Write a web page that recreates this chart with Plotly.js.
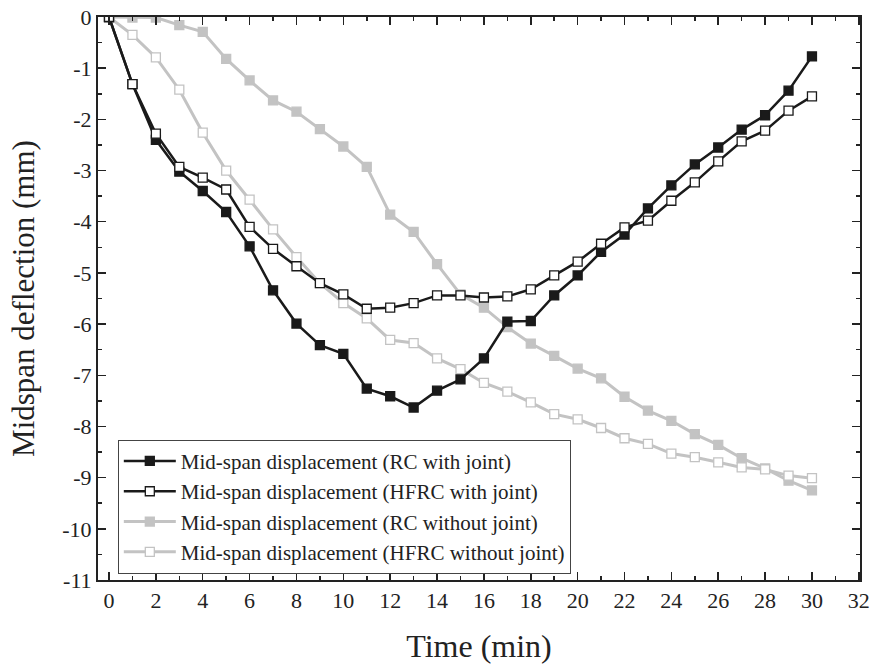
<!DOCTYPE html>
<html>
<head>
<meta charset="utf-8">
<script src="https://cdn.plot.ly/plotly-3.0.1.min.js"></script>
<style>html,body{margin:0;padding:0;background:#fff;}</style>
</head>
<body>
<div id="chart" style="width:873px;height:668px;"></div>
<script>
const time = [0,1,2,3,4,5,6,7,8,9,10,11,12,13,14,15,16,17,18,19,20,21,22,23,24,25,26,27,28,29,30];
const rcWithJoint = [0,-1.31,-2.40,-3.02,-3.40,-3.81,-4.48,-5.34,-5.99,-6.41,-6.58,-7.26,-7.41,-7.63,-7.30,-7.08,-6.67,-5.95,-5.94,-5.44,-5.05,-4.59,-4.25,-3.74,-3.29,-2.88,-2.55,-2.20,-1.92,-1.44,-0.77];
const hfrcWithJoint = [0,-1.31,-2.28,-2.93,-3.14,-3.37,-4.10,-4.53,-4.87,-5.20,-5.42,-5.70,-5.68,-5.59,-5.44,-5.44,-5.48,-5.46,-5.32,-5.05,-4.78,-4.43,-4.11,-3.98,-3.59,-3.23,-2.82,-2.43,-2.22,-1.83,-1.55];
const rcWithoutJoint = [0,-0.01,-0.01,-0.16,-0.29,-0.82,-1.24,-1.63,-1.85,-2.19,-2.53,-2.93,-3.86,-4.20,-4.83,-5.42,-5.68,-6.06,-6.38,-6.62,-6.87,-7.06,-7.42,-7.69,-7.89,-8.15,-8.36,-8.62,-8.82,-9.06,-9.25];
const hfrcWithoutJoint = [0,-0.35,-0.79,-1.42,-2.26,-3.00,-3.57,-4.15,-4.69,-5.20,-5.59,-5.89,-6.31,-6.37,-6.67,-6.88,-7.15,-7.32,-7.53,-7.76,-7.86,-8.03,-8.23,-8.34,-8.53,-8.60,-8.70,-8.80,-8.84,-8.96,-9.01];
const seriesNames = [
  "Mid-span displacement (RC with joint)",
  "Mid-span displacement (HFRC with joint)",
  "Mid-span displacement (RC without joint)",
  "Mid-span displacement (HFRC without joint)"
];
const xTickVals = [0,2,4,6,8,10,12,14,16,18,20,22,24,26,28,30,32];
const yTickVals = [0,-1,-2,-3,-4,-5,-6,-7,-8,-9,-10,-11];

const black = '#1a1a1a', gray = '#c3c3c3';
function tr(y, name, col, filled, lw, rank) {
  return {
    x: time, y: y, name: name, type: 'scatter', mode: 'lines+markers',
    legendrank: rank,
    line: {color: col, width: lw},
    marker: {symbol: 'square', size: 9, color: filled ? col : '#ffffff',
             line: {color: col, width: 1.3}}
  };
}
const data = [
  tr(rcWithoutJoint, seriesNames[2], gray, true, 3, 3),
  tr(hfrcWithoutJoint, seriesNames[3], gray, false, 3, 4),
  tr(rcWithJoint, seriesNames[0], black, true, 2.5, 1),
  tr(hfrcWithJoint, seriesNames[1], black, false, 2.5, 2)
];
const font = 'Liberation Serif, Times New Roman, serif';
const layout = {
  width: 873, height: 668,
  margin: {l: 98, r: 13, t: 17, b: 88},
  paper_bgcolor: '#fff', plot_bgcolor: '#fff',
  font: {family: font, color: '#222', size: 20},
  showlegend: true,
  legend: {
    x: 0.026, y: 0.249, xanchor: 'left', yanchor: 'top',
    bgcolor: '#fff', bordercolor: '#444', borderwidth: 1,
    font: {family: font, size: 21, color: '#222'},
    itemwidth: 52,
    traceorder: 'normal', tracegroupgap: 0
  },
  xaxis: {
    range: [-0.47, 32.05], tickvals: xTickVals, ticktext: xTickVals.map(String),
    ticks: 'inside', ticklen: 8, tickwidth: 1.5, tickcolor: '#222',
    minor: {dtick: 1, tick0: 1, ticks: 'inside', ticklen: 4, tickwidth: 1.5, tickcolor: '#222'},
    showline: true, linecolor: '#222', linewidth: 2, mirror: 'ticks',
    showgrid: false, zeroline: false,
    tickfont: {family: font, size: 22, color: '#222'},
    title: {text: 'Time (min)', font: {family: font, size: 32, color: '#222'}, standoff: 22}
  },
  yaxis: {
    range: [-11, 0], tickvals: yTickVals, ticktext: yTickVals.map(String),
    ticks: 'inside', ticklen: 8, tickwidth: 1.5, tickcolor: '#222',
    minor: {dtick: 0.5, tick0: 0, ticks: 'inside', ticklen: 4, tickwidth: 1.5, tickcolor: '#222'},
    showline: true, linecolor: '#222', linewidth: 2, mirror: 'ticks',
    showgrid: false, zeroline: false,
    tickfont: {family: font, size: 22, color: '#222'},
    title: {text: 'Midspan deflection (mm)', font: {family: font, size: 31, color: '#222'}, standoff: 18}
  }
};
Plotly.newPlot('chart', data, layout, {displayModeBar: false, staticPlot: true});
</script>
</body>
</html>
